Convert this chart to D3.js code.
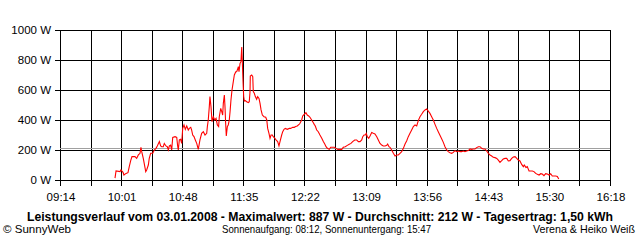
<!DOCTYPE html>
<html>
<head>
<meta charset="utf-8">
<script src="https://cdn.jsdelivr.net/npm/d3@7"></script>
<style>
  html, body { margin: 0; padding: 0; background: #fff; }
  svg { display: block; font-family: "Liberation Sans", Arial, sans-serif; }
</style>
</head>
<body>
<div id="chart"></div>
<script>
// Power curve, 03.01.2008 — minutes after midnight and watts.
const minutes = [
  596.4, 597.2, 600.3, 601.0, 602.6, 603.3, 604.9, 606.4, 607.4, 608.5, 609.5, 611.8, 613.1, 614.4,
  615.7, 616.4, 617.0, 618.2, 620.1, 620.8, 622.1, 622.8, 623.9, 625.5, 626.7, 628.0, 629.0, 630.6,
  631.6, 632.4, 633.6, 634.4, 635.7, 636.7, 637.5, 638.3, 639.3, 640.1, 640.9, 642.7, 644.0, 644.7,
  645.2, 646.0, 647.0, 647.8, 648.6, 649.6, 650.6, 651.7, 652.9, 653.7, 654.8, 655.5, 656.3, 657.3,
  658.3, 659.4, 660.6, 661.9, 663.2, 664.5, 665.8, 667.1, 667.6, 668.3, 669.1, 669.6, 670.4, 671.2,
  672.2, 673.3, 674.3, 675.3, 676.3, 676.8, 677.9, 678.7, 679.4, 679.9, 680.7, 681.2, 681.7, 682.2,
  683.0, 683.7, 684.5, 685.1, 685.8, 686.6, 687.6, 688.4, 689.5, 690.2, 690.7, 691.5, 692.0, 692.8,
  693.5, 694.1, 694.5, 695.1, 695.6, 696.1, 696.9, 697.9, 699.2, 699.9, 700.5, 700.7, 701.8, 702.6,
  703.0, 703.8, 704.6, 705.6, 706.4, 707.4, 708.2, 709.0, 710.0, 711.3, 712.6, 713.4, 714.1, 715.1,
  715.9, 716.7, 717.7, 718.4, 719.7, 720.5, 721.8, 722.8, 723.6, 724.9, 725.7, 726.7, 727.7, 729.2,
  730.8, 731.8, 733.4, 734.6, 735.7, 736.9, 738.5, 739.0, 740.3, 741.1, 742.6, 743.6, 744.6, 745.7,
  746.7, 748.0, 749.3, 750.0, 750.8, 751.9, 753.1, 754.4, 755.8, 757.0, 758.1, 759.1, 760.1, 761.6,
  762.7, 764.2, 765.5, 766.8, 768.1, 769.3, 771.2, 772.4, 773.9, 775.5, 777.0, 778.3, 779.6, 781.2,
  782.7, 784.0, 785.3, 786.6, 787.4, 788.4, 789.4, 790.1, 790.9, 792.0, 793.0, 794.3, 795.5, 796.8,
  798.2, 799.4, 800.7, 802.0, 803.2, 804.6, 805.9, 806.6, 807.6, 808.4, 809.7, 811.0, 812.3, 813.6,
  814.8, 816.1, 817.4, 818.7, 820.0, 821.3, 822.5, 823.8, 825.1, 826.4, 827.7, 829.0, 830.2, 831.5,
  832.8, 834.1, 835.4, 836.7, 837.9, 839.2, 840.5, 841.8, 843.1, 844.4, 845.6, 847.0, 848.3, 849.5,
  850.8, 852.1, 853.3, 854.7, 856.0, 857.2, 858.5, 859.8, 861.1, 862.4, 863.7, 864.9, 866.2, 867.5,
  868.8, 870.1, 871.4, 872.6, 873.9, 875.2, 876.5, 877.8, 879.1, 880.3, 881.6, 883.0, 884.2, 885.5,
  886.8, 888.0, 889.4, 890.7, 891.9, 893.2, 894.5, 895.7, 897.1, 898.4, 899.6, 900.9, 902.2, 903.5,
  904.8, 906.1, 907.3, 908.6, 909.9, 911.2, 911.9, 913.2, 914.2, 915.6, 916.9, 918.1, 919.4, 920.7,
  922.0, 923.3, 924.6, 925.8, 927.1, 928.4, 929.7, 931.0, 932.3, 933.5, 934.8, 936.1, 937.4, 938.5
];
const watts = [
  13, 60, 56, 67, 51, 33, 44, 49, 89, 129, 156, 156, 144, 167,
  178, 218, 189, 144, 56, 67, 100, 144, 178, 178, 200, 211, 227, 256,
  227, 222, 222, 244, 227, 222, 200, 227, 233, 200, 284, 289, 284, 227,
  200, 267, 271, 244, 344, 367, 338, 360, 333, 344, 351, 333, 300, 289,
  267, 244, 204, 267, 311, 322, 300, 311, 356, 400, 489, 556, 489, 389,
  422, 400, 411, 367, 356, 422, 478, 456, 433, 511, 567, 489, 378, 293,
  356, 367, 400, 456, 533, 600, 656, 700, 722, 722, 733, 756, 722, 778,
  789, 887, 800, 656, 556, 527, 529, 522, 516, 522, 589, 693, 700, 689,
  589, 578, 556, 538, 556, 544, 511, 467, 433, 422, 418, 400, 344, 311,
  278, 300, 300, 289, 278, 267, 256, 227, 256, 300, 322, 338, 344, 338,
  344, 344, 351, 351, 356, 360, 373, 378, 400, 427, 440, 449, 433, 427,
  418, 400, 382, 371, 360, 333, 322, 300, 278, 256, 240, 222, 211, 204,
  218, 218, 218, 211, 204, 204, 204, 218, 222, 231, 238, 244, 256, 267,
  267, 256, 256, 267, 289, 300, 300, 311, 289, 278, 293, 316, 311, 307,
  289, 267, 244, 233, 227, 227, 231, 240, 222, 218, 200, 178, 160, 167,
  167, 178, 189, 211, 240, 262, 289, 311, 333, 356, 367, 360, 396, 422,
  438, 456, 467, 473, 460, 444, 422, 400, 371, 344, 322, 296, 273, 251,
  222, 200, 189, 182, 178, 184, 196, 189, 193, 189, 189, 193, 189, 193,
  196, 207, 204, 207, 207, 216, 222, 222, 211, 207, 207, 193, 178, 167,
  160, 151, 149, 144, 133, 118, 129, 140, 144, 144, 127, 129, 144, 153,
  156, 144, 133, 127, 104, 89, 100, 84, 89, 60, 60, 60, 56, 44,
  38, 33, 42, 40, 29, 42, 40, 33, 42, 27, 27, 27, 24, 7
];
const average = 212;
const yTicks = [0, 200, 400, 600, 800, 1000];
const tickLabels = ['09:14', '10:01', '10:48', '11:35', '12:22', '13:09', '13:56', '14:43', '15:30', '16:18'];

const title = 'Leistungsverlauf vom 03.01.2008 - Maximalwert: 887 W - Durchschnitt: 212 W - Tagesertrag: 1,50 kWh';
const sunText = 'Sonnenaufgang: 08:12, Sonnenuntergang: 15:47';

const width = 640, height = 240;
const toMin = s => { const [h, m] = s.split(':').map(Number); return h * 60 + m; };

const x = d3.scaleLinear()
  .domain([toMin(tickLabels[0]), toMin(tickLabels[tickLabels.length - 1])])
  .range([60, 610]);
const y = d3.scaleLinear().domain([0, 1000]).range([180, 30]);

const svg = d3.select('#chart').append('svg')
  .attr('width', width)
  .attr('height', height);

// Grid: 18 equal columns, labels on every second line.
const [d0, d1] = x.domain();
const gridX = d3.range(19).map(i => d0 + (d1 - d0) * i / 18);

svg.append('g')
  .selectAll('line')
  .data(gridX)
  .join('line')
  .attr('x1', d => Math.round(x(d)) + 0.5)
  .attr('x2', d => Math.round(x(d)) + 0.5)
  .attr('y1', y(1000))
  .attr('y2', y(0) + 6)
  .attr('stroke', '#000')
  .attr('shape-rendering', 'crispEdges');

svg.append('g')
  .selectAll('line')
  .data(yTicks)
  .join('line')
  .attr('x1', 55)
  .attr('x2', 610)
  .attr('y1', d => Math.round(y(d)) + 0.5)
  .attr('y2', d => Math.round(y(d)) + 0.5)
  .attr('stroke', '#000')
  .attr('shape-rendering', 'crispEdges');

// Average line.
svg.append('line')
  .attr('x1', 60).attr('x2', 610)
  .attr('y1', Math.round(y(average)) + 0.5)
  .attr('y2', Math.round(y(average)) + 0.5)
  .attr('stroke', '#a0a0a0')
  .attr('shape-rendering', 'crispEdges');

// Y labels.
svg.append('g')
  .selectAll('text')
  .data(yTicks)
  .join('text')
  .attr('x', 51)
  .attr('y', d => y(d) + 4)
  .attr('text-anchor', 'end')
  .attr('font-size', 11.5)
  .attr('fill', '#000')
  .text(d => `${d} W`);

// X labels.
svg.append('g')
  .selectAll('text')
  .data(tickLabels)
  .join('text')
  .attr('x', (d, i) => x(gridX[i * 2]) + 1)
  .attr('y', 201)
  .attr('text-anchor', 'middle')
  .attr('font-size', 11.5)
  .attr('fill', '#000')
  .text(d => d);

// Power line.
const line = d3.line()
  .x((d, i) => x(minutes[i]))
  .y(d => y(d));

svg.append('path')
  .datum(watts)
  .attr('fill', 'none')
  .attr('stroke', '#ff0000')
  .attr('stroke-width', 1.1)
  .attr('d', line);

// Footer texts.
svg.append('text')
  .attr('x', 320).attr('y', 221)
  .attr('text-anchor', 'middle')
  .attr('font-size', 12)
  .attr('font-weight', 'bold')
  .attr('textLength', 586)
  .attr('lengthAdjust', 'spacingAndGlyphs')
  .text(title);

const footer = [
  { text: '© SunnyWeb', x: 3, anchor: 'start', len: 68 },
  { text: sunText, x: 326.5, anchor: 'middle', len: 209 },
  { text: 'Verena & Heiko Weiß', x: 635, anchor: 'end', len: 102 }
];

svg.append('g')
  .selectAll('text')
  .data(footer)
  .join('text')
  .attr('x', d => d.x)
  .attr('y', 233)
  .attr('text-anchor', d => d.anchor)
  .attr('font-size', 11)
  .attr('textLength', d => d.len)
  .attr('lengthAdjust', 'spacingAndGlyphs')
  .text(d => d.text);
</script>
</body>
</html>
